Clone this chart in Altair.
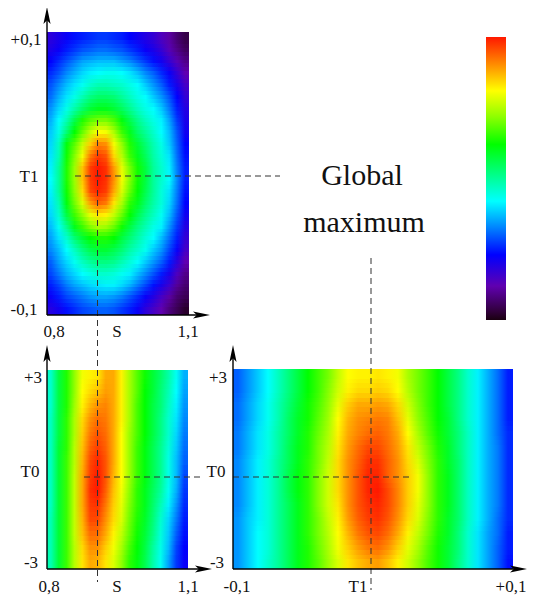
import altair as alt
import pandas as pd

# Colour bar stops (level -> colour)
LEVELS = [0, 3, 12, 23, 33, 42, 52, 62, 72, 81, 90, 100]
COLORS = ["#1a0010", "#30003a", "#6000b0", "#0000ff", "#0088ff", "#00ffff", "#00ff80",
          "#00ff00", "#90ff00", "#ffff00", "#ff9000", "#ff1800"]

# Panel 1: S (columns) against T1 (rows, top first)
S_T1 = [
 [18,20,22,24,25,26,27,27,26,25,23,21,19,17,14,11,7,4],
 [20,22,25,27,29,30,31,31,30,29,27,25,22,20,17,13,9,6],
 [23,26,29,32,35,36,37,37,37,35,33,30,27,24,21,17,13,9],
 [26,29,33,36,39,41,42,43,43,42,40,37,33,30,26,22,17,12],
 [29,33,37,40,43,46,48,48,47,46,44,42,38,34,30,25,20,15],
 [31,36,40,44,48,52,54,54,53,50,47,44,42,38,34,29,23,17],
 [34,39,44,49,54,58,60,60,58,55,51,47,44,42,38,32,25,19],
 [36,42,48,56,64,68,70,70,67,61,56,51,47,44,41,35,27,20],
 [38,44,53,62,69,76,81,80,74,66,60,54,50,46,42,37,29,21],
 [39,47,61,68,76,85,91,90,80,72,64,58,53,48,44,38,30,23],
 [40,48,63,71,80,92,97,95,84,75,66,60,55,49,45,40,31,24],
 [41,50,64,73,86,97,100,98,89,79,70,63,57,50,46,41,32,25],
 [42,50,64,73,86,97,100,98,90,80,71,63,57,50,46,42,33,25],
 [41,50,63,72,84,96,99,97,88,78,69,62,56,50,45,40,32,24],
 [40,48,61,70,78,89,94,92,83,74,65,60,54,49,45,39,31,23],
 [39,46,57,66,72,79,83,82,76,69,62,56,51,47,43,37,29,21],
 [37,43,51,60,66,71,74,73,69,63,57,52,48,44,41,34,27,19],
 [35,40,46,53,58,62,64,64,62,57,53,49,45,42,37,31,25,17],
 [33,37,42,47,52,56,58,58,56,53,49,46,43,38,34,28,22,15],
 [30,35,39,43,47,50,52,52,51,48,45,42,38,34,30,25,18,12],
 [28,32,36,39,42,44,46,46,45,43,41,37,33,29,25,20,14,9],
 [25,28,32,35,37,39,40,41,41,39,36,32,28,24,20,16,10,7],
 [22,25,28,30,32,34,35,35,34,32,29,26,22,19,15,11,7,5],
 [19,21,24,26,28,29,30,30,29,27,25,22,18,15,12,8,5,2],
]

# Panel 2: S (columns) against T0 (rows, top first)
S_T0 = [
 [46,57,64,72,80,82,83,88,88,82,74,68,63,58,54,49,43,36],
 [46,57,64,72,81,84,86,89,88,82,74,68,62,58,53,48,42,35],
 [46,57,64,73,82,87,90,91,88,82,74,67,62,57,53,47,41,34],
 [47,57,65,74,84,90,93,92,88,82,74,67,62,57,52,46,40,33],
 [47,57,65,74,85,92,95,93,88,81,73,67,62,57,52,46,39,32],
 [47,58,65,75,86,94,97,94,88,81,73,66,61,56,51,45,38,31],
 [47,58,66,75,87,96,99,95,88,81,73,66,61,56,51,44,37,30],
 [47,58,66,76,88,97,100,95,87,81,73,66,61,56,51,44,37,28],
 [47,58,66,76,88,98,100,94,86,80,72,65,60,55,50,43,36,27],
 [47,58,66,76,88,97,98,92,85,79,71,65,60,54,48,41,34,26],
 [48,58,66,76,87,96,96,90,84,78,70,64,59,53,46,39,32,25],
 [48,58,66,76,86,93,93,88,82,76,69,63,58,52,45,38,30,24],
 [48,58,66,75,84,90,90,85,80,74,67,62,57,50,44,37,28,23],
 [48,58,66,75,83,88,87,83,78,72,65,61,56,49,43,35,27,22],
]

# Panel 3: T1 (columns) against T0 (rows, top first)
T1_T0 = [
 [30,34,38,42,47,52,57,62,66,70,76,81,82,82,83,82,80,74,70,66,62,57,52,46,41,36,31,25],
 [30,34,38,42,47,52,57,62,66,71,77,82,84,84,85,84,81,75,70,66,62,57,52,46,41,36,31,25],
 [31,35,39,43,48,53,58,63,67,72,79,85,88,88,89,88,84,77,71,66,62,57,52,46,41,36,31,25],
 [31,35,39,43,48,54,59,63,68,73,81,87,90,91,92,91,86,79,72,67,62,58,52,46,41,36,31,25],
 [32,36,40,44,49,54,59,64,69,74,82,88,91,93,94,92,88,81,74,68,63,58,53,47,41,36,31,26],
 [32,36,40,44,49,55,60,64,70,75,83,89,93,96,96,93,89,83,76,70,64,59,53,47,41,36,32,26],
 [33,37,41,45,50,55,60,65,70,76,84,90,94,98,98,94,90,84,78,71,65,59,54,47,41,36,32,26],
 [33,37,41,45,50,56,61,65,71,77,84,90,95,99,99,94,90,85,80,72,65,60,54,47,41,36,32,26],
 [33,37,41,45,50,56,61,65,71,77,84,90,95,99,100,96,91,85,80,72,65,60,54,47,41,36,32,26],
 [33,37,41,45,50,55,60,65,71,77,83,90,95,98,99,96,91,85,79,72,65,60,54,47,41,36,32,26],
 [34,38,41,45,50,55,60,65,70,76,82,89,94,97,98,95,90,84,78,71,65,59,54,47,41,36,31,26],
 [34,38,42,45,50,55,60,65,70,75,81,87,92,95,96,93,88,82,76,70,64,59,53,46,40,35,31,25],
 [34,38,42,45,50,55,60,64,69,74,80,85,89,92,93,90,85,79,74,68,63,58,53,46,40,35,30,25],
 [34,38,42,46,50,55,60,64,68,73,78,83,86,88,89,86,82,77,72,67,63,58,52,46,40,35,30,24],
]

S_RANGE = [0.8, 1.1]
T1_RANGE = [-0.1, 0.1]
T0_RANGE = [-3, 3]

M = 8  # page margin
FONT = "Liberation Serif"
INK = "#111111"
DASH = "#333333"
px = lambda v: v - M


def shade(v):
    for i in range(len(LEVELS) - 1):
        if v <= LEVELS[i + 1]:
            t = (v - LEVELS[i]) / (LEVELS[i + 1] - LEVELS[i])
            a, b = COLORS[i], COLORS[i + 1]
            ch = [round(int(a[k:k + 2], 16) * (1 - t) + int(b[k:k + 2], 16) * t) for k in (1, 3, 5)]
            return "#%02x%02x%02x" % tuple(ch)
    return COLORS[-1]


def row_gradient(row):
    n = len(row)
    return {"gradient": "linear", "x1": 0, "y1": 0, "x2": 1, "y2": 0,
            "stops": [{"offset": (i + 0.5) / n, "color": shade(v)} for i, v in enumerate(row)]}


def heat_pass(grid, xdom, ydom, box, shift, opacity):
    left, top, right, bottom = box
    n = len(grid)
    hgt = bottom - top

    def y_of(frac_row):
        e = round(top + hgt * min(max(frac_row, 0), n) / n)
        return ydom[1] - (e - top) / hgt * (ydom[1] - ydom[0])

    vals = []
    for r, row in enumerate(grid):
        a = 0 if r == 0 else r + shift
        b = n if r == n - 1 else r + 1 + shift
        vals.append({"x0": xdom[0], "x1": xdom[1], "y0": y_of(a), "y1": y_of(b), "g": row_gradient(row)})
    return alt.Chart(alt.Data(values=vals)).mark_rect(opacity=opacity, strokeWidth=0).encode(
        x=alt.X("x0:Q", axis=None, scale=alt.Scale(domain=xdom, range=[px(left), px(right)], nice=False, zero=False)),
        x2="x1:Q",
        y=alt.Y("y0:Q", axis=None, scale=alt.Scale(domain=ydom, range=[px(bottom), px(top)], nice=False, zero=False)),
        y2="y1:Q",
        fill=alt.Fill("g:N", scale=None),
    )


def heat(grid, xdom, ydom, box):
    return [heat_pass(grid, xdom, ydom, box, s, o)
            for s, o in [(0, 1), (-1 / 3, 1 / 2), (1 / 3, 1 / 3)]]


def colorbar():
    grad = {"gradient": "linear", "x1": 0, "y1": 1, "x2": 0, "y2": 0,
            "stops": [{"offset": l / 100, "color": c} for l, c in zip(LEVELS, COLORS)]}
    return alt.Chart(pd.DataFrame({"a": [0]})).mark_rect(fill=grad, strokeWidth=0).encode(
        x=alt.value(px(486)), x2=alt.value(px(506)), y=alt.value(px(37)), y2=alt.value(px(320)))


def text(s, x, y, size=17):
    return alt.Chart(pd.DataFrame({"t": [s]})).mark_text(
        font=FONT, fontSize=size, color=INK, align="center", baseline="alphabetic"
    ).encode(x=alt.value(px(x)), y=alt.value(px(y)), text="t:N")


def vdash(x, y0, y1):
    return alt.Chart(pd.DataFrame({"a": [0]})).mark_rule(strokeDash=[6, 4], color=DASH, strokeWidth=1).encode(
        x=alt.value(px(x)), y=alt.value(px(y0)), y2=alt.value(px(y1)))


def hdash(y, x0, x1):
    return alt.Chart(pd.DataFrame({"a": [0]})).mark_rule(strokeDash=[6, 4], color=DASH, strokeWidth=1).encode(
        y=alt.value(px(y)), x=alt.value(px(x0)), x2=alt.value(px(x1)))


def vline(x, y0, y1):
    return alt.Chart(pd.DataFrame({"a": [0]})).mark_rule(color="#000000", strokeWidth=1.4).encode(
        x=alt.value(px(x)), y=alt.value(px(y0)), y2=alt.value(px(y1)))


def hline(y, x0, x1):
    return alt.Chart(pd.DataFrame({"a": [0]})).mark_rule(color="#000000", strokeWidth=1.4).encode(
        y=alt.value(px(y)), x=alt.value(px(x0)), x2=alt.value(px(x1)))


ARROW = "M0,-1L0.42,1L0,0.55L-0.42,1Z"


def arrow(x, y, angle):
    return alt.Chart(pd.DataFrame({"a": [0]})).mark_point(
        shape=ARROW, size=289, filled=True, color="#000000", opacity=1, angle=angle, strokeWidth=0
    ).encode(x=alt.value(px(x)), y=alt.value(px(y)))


layers = [
    *heat(S_T1, S_RANGE, T1_RANGE, (47, 32, 189, 315)),
    *heat(S_T0, S_RANGE, T0_RANGE, (47, 370, 188, 569)),
    *heat(T1_T0, T1_RANGE, T0_RANGE, (233, 369, 513, 569)),
    colorbar(),
    # crosshairs
    vdash(97.5, 120, 582),
    hdash(176, 75, 280),
    hdash(477, 84, 202),
    hdash(477, 233, 412),
    vdash(371, 258, 590),
    # axes
    vline(47, 315, 20), hline(315, 47, 200), arrow(47, 15.5, 0), arrow(201.5, 315, 90),
    vline(47, 569, 358), hline(569, 47, 200), arrow(47, 353.5, 0), arrow(203.5, 569, 90),
    vline(233, 569, 358), hline(569, 233, 518), arrow(233, 353.5, 0), arrow(518.5, 569, 90),
    # labels
    text("+0,1", 26, 45), text("T1", 29, 182), text("-0,1", 24, 315),
    text("0,8", 54, 337), text("S", 117, 337), text("1,1", 188, 337),
    text("+3", 33, 383), text("T0", 30, 477), text("-3", 31, 568),
    text("0,8", 49, 592), text("S", 117, 592), text("1,1", 188, 592),
    text("+3", 218, 383), text("T0", 216, 477), text("-3", 217, 568),
    text("-0,1", 237, 592), text("T1", 358, 592), text("+0,1", 511, 592),
    text("Global", 362, 185, 30), text("maximum", 364, 232, 30),
]

chart = alt.layer(*layers).resolve_scale(x="independent", y="independent").properties(
    width=519, height=590, padding=0, autosize=alt.AutoSizeParams(type="none")
).configure_view(stroke=None)

chart.save("out.html", embed_options={"renderer": "svg", "actions": False})
